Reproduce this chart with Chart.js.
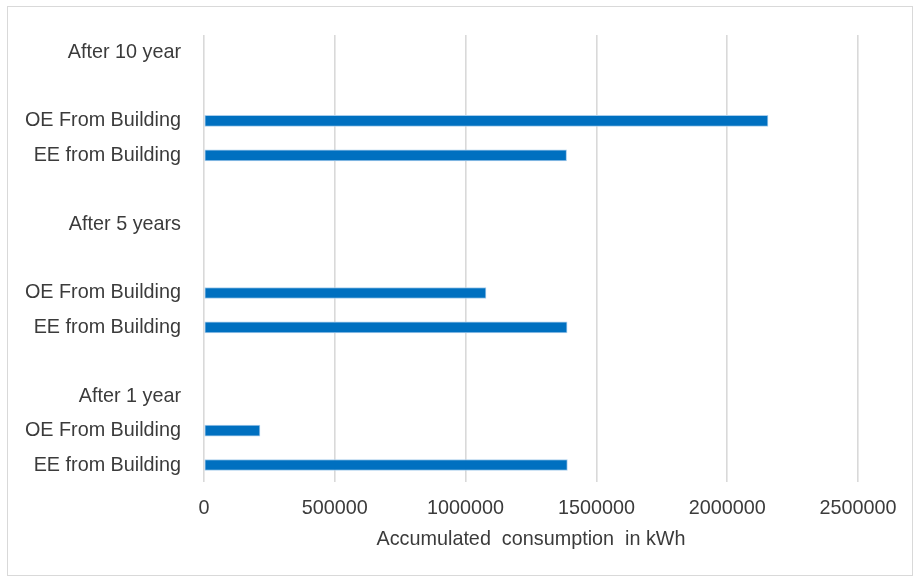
<!DOCTYPE html>
<html>
<head>
<meta charset="utf-8">
<script src="https://cdn.jsdelivr.net/npm/chart.js@4"></script>
<style>
  html, body { margin: 0; padding: 0; background: #fff; }
  #frame { position: absolute; left: 7px; top: 6px; width: 906px; height: 570px; border: 1px solid #d9d9d9; box-sizing: border-box; }
  #wrap { position: absolute; left: 0; top: 0; width: 918px; height: 579px; }
</style>
</head>
<body>
<div id="frame"></div>
<div id="wrap"><canvas id="c" width="918" height="579"></canvas></div>
<script>
const categories = ["After 10 year", "", "OE From Building", "EE from Building", "", "After 5 years", "", "OE From Building", "EE from Building", "", "After 1 year", "OE From Building", "EE from Building"];
const values = [null, null, 2156000, 1386000, null, null, null, 1078000, 1388000, null, null, 214000, 1389000];
const xTicks = [0, 500000, 1000000, 1500000, 2000000, 2500000];
const axisTitle = "Accumulated  consumption  in kWh";

const FONT = { family: "'Liberation Sans', Arial, sans-serif", size: 19.8 };
const TEXT = '#3b3b3b';

new Chart(document.getElementById('c'), {
  type: 'bar',
  data: {
    labels: categories,
    datasets: [{
      data: values,
      backgroundColor: '#0070c0',
      borderColor: '#a8cdec',
      borderWidth: 1,
      borderSkipped: false,
      barThickness: 11
    }]
  },
  options: {
    indexAxis: 'y',
    responsive: false,
    animation: false,
    layout: { padding: { left: 0, top: 33.75, right: 60, bottom: 0 } },
    plugins: { legend: { display: false }, tooltip: { enabled: false } },
    scales: {
      x: {
        min: 0,
        max: 2500000,
        afterBuildTicks: s => { s.ticks = xTicks.map(v => ({ value: v })); },
        afterFit: s => { s.height = 579 - 482.25; },
        grid: { color: '#d9d9d9', lineWidth: 1.6, drawTicks: false },
        border: { display: false },
        ticks: { color: TEXT, font: FONT, padding: 14, maxRotation: 0, autoSkip: false, callback: v => String(v) },
        title: { display: true, text: axisTitle, color: TEXT, font: FONT, padding: { top: 28, bottom: 28 } }
      },
      y: {
        afterFit: s => { s.width = 204; },
        grid: { display: false, drawTicks: false },
        border: { display: false },
        ticks: { color: TEXT, font: FONT, padding: 23, autoSkip: false }
      }
    }
  }
});
</script>
</body>
</html>
